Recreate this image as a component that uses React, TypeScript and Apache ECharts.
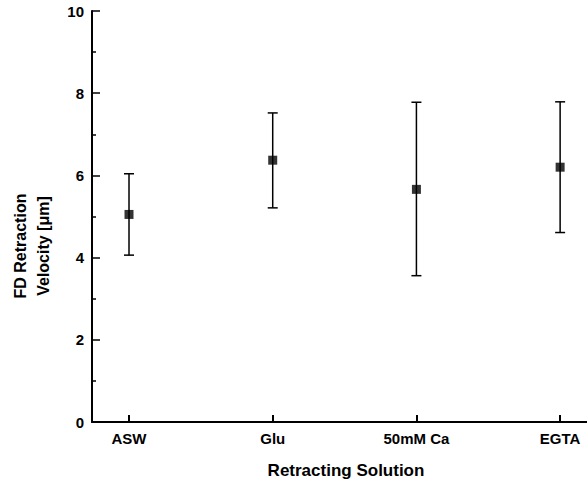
import React, { useEffect, useRef } from "react";
import * as echarts from "echarts";

const categories = ["ASW", "Glu", "50mM Ca", "EGTA"];
const means = [5.05, 6.37, 5.66, 6.2];
const upper = [6.04, 7.52, 7.78, 7.79];
const lower = [4.06, 5.21, 3.56, 4.61];

const FONT = "'Liberation Sans', Arial, sans-serif";

export default function App() {
  const ref = useRef<HTMLDivElement>(null);
  useEffect(() => {
    if (!ref.current) return;
    const chart = echarts.init(ref.current, null, { renderer: "svg" });
    const idx = categories.map((_, i) => i);
    chart.setOption({
      animation: false,
      backgroundColor: "#fff",
      grid: { left: 92, top: 11, right: 0, bottom: 63, containLabel: false },
      xAxis: {
        type: "value",
        min: -0.2575,
        max: 3.187,
        axisLine: { show: true, onZero: false, lineStyle: { color: "#000", width: 2 } },
        axisTick: {
          show: true,
          inside: true,
          length: 7,
          customValues: idx,
          lineStyle: { color: "#000", width: 2 },
        },
        axisLabel: {
          customValues: idx,
          formatter: (v: number) => categories[Math.round(v)] ?? "",
          color: "#000",
          fontWeight: "bold",
          fontSize: 15,
          fontFamily: FONT,
          margin: 9,
        },
        splitLine: { show: false },
      },
      yAxis: {
        type: "value",
        min: 0,
        max: 10,
        interval: 2,
        axisLine: { show: true, onZero: false, lineStyle: { color: "#000", width: 2 } },
        axisTick: { show: true, inside: true, length: 8, lineStyle: { color: "#000", width: 1.5 } },
        minorTick: { show: true, splitNumber: 2, length: 4, lineStyle: { color: "#000", width: 1.5 } },
        axisLabel: {
          color: "#000",
          fontWeight: "bold",
          fontSize: 15,
          fontFamily: FONT,
          margin: 8,
        },
        splitLine: { show: false },
      },
      graphic: [
        {
          type: "text",
          x: 32,
          y: 246,
          rotation: Math.PI / 2,
          style: {
            text: "FD Retraction\nVelocity [\u03bcm]",
            fill: "#000",
            font: `bold 16px ${FONT}`,
            align: "center",
            verticalAlign: "middle",
            lineHeight: 23,
          },
        },
        {
          type: "text",
          x: 346,
          y: 470,
          style: {
            text: "Retracting Solution",
            fill: "#000",
            font: `bold 17px ${FONT}`,
            align: "center",
            verticalAlign: "middle",
          },
        },
      ],
      series: [
        {
          type: "custom",
          data: idx.map((i) => [i, lower[i], upper[i]]),
          renderItem: (params: any, api: any) => {
            const x = api.value(0);
            const lo = api.coord([x, api.value(1)]);
            const hi = api.coord([x, api.value(2)]);
            const hw = 5;
            const style = { stroke: "#000", lineWidth: 1.5 };
            return {
              type: "group",
              children: [
                { type: "line", shape: { x1: lo[0], y1: lo[1], x2: hi[0], y2: hi[1] }, style },
                { type: "line", shape: { x1: hi[0] - hw, y1: hi[1], x2: hi[0] + hw, y2: hi[1] }, style },
                { type: "line", shape: { x1: lo[0] - hw, y1: lo[1], x2: lo[0] + hw, y2: lo[1] }, style },
              ],
            };
          },
          z: 2,
        },
        {
          type: "scatter",
          data: idx.map((i) => [i, means[i]]),
          symbol: "rect",
          symbolSize: 9,
          itemStyle: { color: "#000" },
          z: 3,
        },
      ],
    });
    return () => chart.dispose();
  }, []);
  return (
    <div
      ref={ref}
      style={{ position: "absolute", left: 0, top: 0, width: 587, height: 485 }}
    />
  );
}
